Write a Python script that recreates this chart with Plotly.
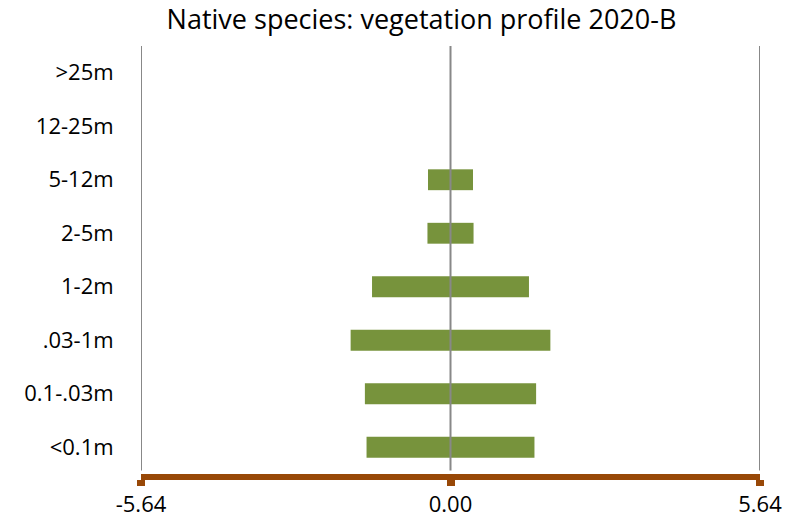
import plotly.graph_objects as go

categories = ["<0.1m", "0.1-.03m", ".03-1m", "1-2m", "2-5m", "5-12m", "12-25m", ">25m"]
half_width = [1.53, 1.56, 1.82, 1.43, 0.42, 0.41, 0.0, 0.0]
x_ticks = [-5.64, 0.0, 5.64]
x_tick_labels = ["-5.64", "0.00", "5.64"]
title = "Native species: vegetation profile 2020-B"

green = "#77933C"
brown = "#984807"
grid = "#888888"
font = "Open Sans"

W, H = 797, 524

fig = go.Figure()
fig.add_trace(go.Bar(y=categories, x=[-v for v in half_width], orientation="h",
                     marker=dict(color=green, line=dict(width=0)), showlegend=False))
fig.add_trace(go.Bar(y=categories, x=half_width, orientation="h",
                     marker=dict(color=green, line=dict(width=0)), showlegend=False))

# vertical gridlines drawn over the bars, as in the reference
for xv in x_ticks:
    fig.add_shape(type="line", xref="x", yref="paper", x0=xv, x1=xv, y0=0.008, y1=1,
                  line=dict(color=grid, width=2), layer="above")

fig.update_layout(
    width=W, height=H,
    barmode="relative", bargap=0.61,
    paper_bgcolor="white", plot_bgcolor="white",
    margin=dict(l=141, r=37, t=46, b=50, autoexpand=False),
    title=dict(text=title, x=421.5 / W, xanchor="center", y=1 - 20 / H, yanchor="middle",
               xref="container", yref="container",
               font=dict(family=font, size=27, color="#000000")),
    font=dict(family=font, size=23, color="#000000"),
)
fig.update_xaxes(range=[-5.64, 5.64], tickvals=x_ticks, ticktext=x_tick_labels,
                 showgrid=False, zeroline=False,
                 showline=True, linecolor=brown, linewidth=6,
                 ticks="outside", ticklen=6, tickwidth=8, tickcolor=brown,
                 ticklabelstandoff=0,
                 tickfont=dict(family=font, size=22))
fig.update_yaxes(categoryorder="array", categoryarray=categories,
                 showgrid=False, zeroline=False, showline=False,
                 ticks="outside", ticklen=0, ticklabelstandoff=22,
                 tickfont=dict(family=font, size=22))

fig.write_html("out.html", config={"displayModeBar": False},
               post_script="document.body.style.margin='0';")
